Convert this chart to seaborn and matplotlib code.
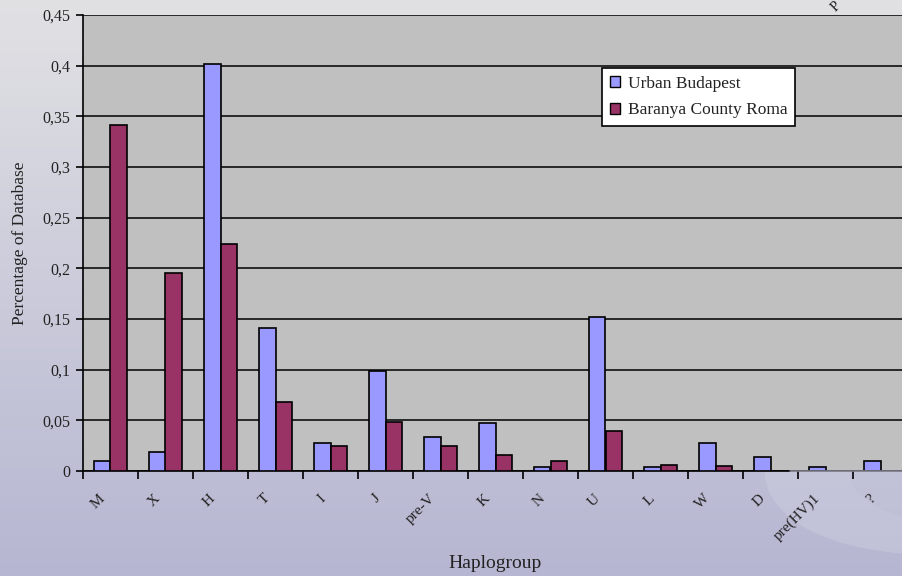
import numpy as np
import pandas as pd
import matplotlib
matplotlib.use("Agg")
import matplotlib.pyplot as plt
from matplotlib.patches import Ellipse, Patch
from matplotlib.ticker import FuncFormatter, MultipleLocator, FixedLocator
import matplotlib.transforms as mtransforms
import seaborn as sns

# Haplogroup frequencies (fraction of each database)
haplogroups = ["M", "X", "H", "T", "I", "J", "pre-V", "K", "N", "U",
               "L", "W", "D", "pre(HV)1", "?"]
urban_budapest = [0.0095, 0.019, 0.402, 0.141, 0.028, 0.099, 0.034, 0.047,
                  0.004, 0.152, 0.004, 0.028, 0.014, 0.004, 0.0095]
baranya_roma = [0.341, 0.195, 0.224, 0.068, 0.025, 0.048, 0.025, 0.0155,
                0.0095, 0.039, 0.0055, 0.005, 0.0, 0.0, 0.0]
series_names = ["Urban Budapest", "Baranya County Roma"]
series_colors = ["#9999ff", "#993366"]

df = pd.DataFrame({
    "Haplogroup": haplogroups * 2,
    "value": urban_budapest + baranya_roma,
    "population": [series_names[0]] * len(haplogroups) + [series_names[1]] * len(haplogroups),
})

sns.set_theme(style="white")
plt.rcParams["font.family"] = ["Liberation Serif", "DejaVu Serif"]
text_color = "#222222"

W, H = 903, 576
fig = plt.figure(figsize=(W / 100, H / 100), dpi=100)

# Slide-style background: vertical gray-to-lavender gradient with a soft swoosh
bg = fig.add_axes([0, 0, 1, 1], zorder=0)
top = np.array([225, 225, 228]) / 255
bottom = np.array([182, 182, 210]) / 255
t = np.linspace(0, 1, 256)[:, None]
grad = (1 - t) * top + t * bottom
bg.imshow(grad[:, None, :].repeat(2, axis=1), aspect="auto",
          extent=[0, W, H, 0], interpolation="bilinear")
bg.set_xlim(0, W)
bg.set_ylim(H, 0)
bg.add_patch(Ellipse((1030, 425), 540, 240, angle=-12, facecolor="white",
                     alpha=0.13, edgecolor="none"))
bg.add_patch(Ellipse((1070, 430), 450, 170, angle=-12, facecolor="#b8b8d4",
                     alpha=0.25, edgecolor="none"))
bg.axis("off")

# Plot area (extends slightly past the right edge of the figure)
left_px, right_px, top_px, bottom_px = 83, 908, 15, 471
ax = fig.add_axes([left_px / W, 1 - bottom_px / H,
                   (right_px - left_px) / W, (bottom_px - top_px) / H], zorder=2)
ax.set_facecolor("#c0c0c0")

sns.barplot(data=df, x="Haplogroup", y="value", hue="population",
            palette=series_colors, width=0.6, gap=0, edgecolor="black",
            linewidth=1.2, saturation=1, ax=ax, legend=False, zorder=3)
# Empty bars leave no outline on the baseline
for bar in ax.patches:
    if bar.get_height() == 0:
        bar.set_linewidth(0)

n = len(haplogroups)
ax.set_ylim(0, 0.45)
ax.set_xlim(-0.5, n - 0.5)
ax.yaxis.set_major_locator(MultipleLocator(0.05))
ax.yaxis.set_major_formatter(FuncFormatter(
    lambda v, p: "0" if abs(v) < 1e-9 else f"{v:.2f}".rstrip("0").replace(".", ",")))
ax.grid(axis="y", color="black", linewidth=1.1, zorder=1)
ax.grid(axis="x", visible=False)
ax.set_axisbelow(True)

for side in ["top", "right"]:
    ax.spines[side].set_visible(False)
ax.spines["left"].set_color("black")
ax.spines["left"].set_linewidth(1.2)
# Baseline fades to gray under the swoosh on the right
ax.spines["bottom"].set_color("black")
ax.spines["bottom"].set_linewidth(1.2)
ax.spines["bottom"].set_bounds(-0.5, 12.35)
ax.plot([12.35, n - 0.5], [0, 0], color="#7a7a86", linewidth=1.2,
        clip_on=False, zorder=4)

ax.tick_params(axis="y", which="major", direction="out", length=5, width=1.2,
               color="black", labelsize=11.5, labelcolor=text_color, pad=4, left=True)
# Tick marks sit on category boundaries; labels stay centred on categories
ax.xaxis.set_minor_locator(FixedLocator(np.arange(-0.5, n, 1.0)))
ax.tick_params(axis="x", which="minor", direction="out", length=6, width=1.2,
               color="black", bottom=True)
for tk in ax.xaxis.get_minor_ticks()[13:]:
    tk.tick1line.set_color("#7a7a86")
ax.tick_params(axis="x", which="major", length=0, labelsize=11,
               labelcolor=text_color, pad=15)
ax.set_xticks(range(n))
ax.set_xticklabels(haplogroups, rotation=45, ha="right", va="top",
                   rotation_mode="anchor")
offset = mtransforms.ScaledTranslation(-12 / 100, 0, fig.dpi_scale_trans)
for lbl in ax.get_xticklabels():
    lbl.set_transform(lbl.get_transform() + offset)

ax.set_xlabel("")
ax.set_ylabel("")
fig.text(495 / W, 1 - 563 / H, "Haplogroup", ha="center", va="center",
         fontsize=14, color=text_color)
fig.text(20 / W, 1 - 243 / H, "Percentage of Database", rotation=90,
         ha="center", va="center", fontsize=12.5, color=text_color)

handles = [Patch(facecolor=c, edgecolor="black", linewidth=1.0) for c in series_colors]
leg = ax.legend(handles, series_names, loc="upper left",
                bbox_to_anchor=(602 / W, 1 - 68 / H), bbox_transform=fig.transFigure,
                frameon=True, fancybox=False, edgecolor="black", facecolor="white",
                framealpha=1, fontsize=12.5, handlelength=0.6, handleheight=0.6,
                handletextpad=0.45, borderpad=0.45, labelspacing=0.6,
                borderaxespad=0)
leg.get_frame().set_linewidth(1.2)
for txt in leg.get_texts():
    txt.set_color(text_color)

# Stray rotated label fragment at the top edge
fig.text(836 / W, 1 - 7 / H, "P", rotation=45, ha="center", va="center",
         fontsize=10.5, color=text_color)

fig.savefig("out.png", dpi=100)
